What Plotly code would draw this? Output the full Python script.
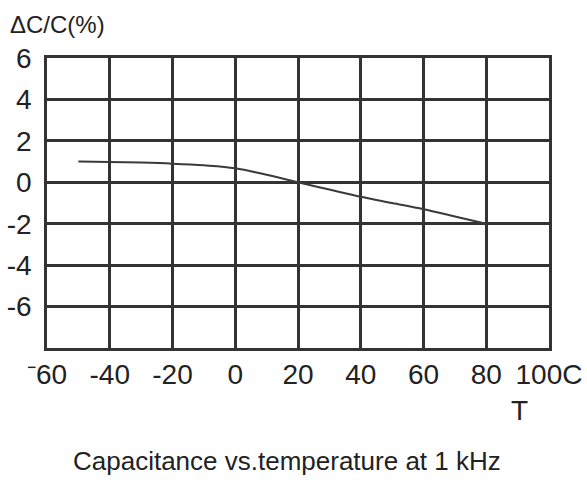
import plotly.graph_objects as go

temps = [-50, -40, -30, -20, -10, 0, 10, 20, 30, 40, 50, 60, 70, 80]
dcc = [1.0, 0.98, 0.95, 0.9, 0.82, 0.68, 0.36, 0.0, -0.35, -0.7, -1.0, -1.3, -1.65, -2.0]

x_ticks = [-60, -40, -20, 0, 20, 40, 60, 80, 100]
x_labels = ["\u207b60", "-40", "-20", "0", "20", "40", "60", "80", "100C"]
y_ticks = [6, 4, 2, 0, -2, -4, -6]
y_labels = ["6", "4", "2", "0", "-2", "-4", "-6"]

ink = "#333333"
fig = go.Figure()
fig.add_trace(go.Scatter(x=temps, y=dcc, mode="lines",
                         line=dict(color="#3a3a3a", width=2, shape="spline"),
                         showlegend=False, hoverinfo="skip"))

tickfont = dict(family="Liberation Sans, Arial", size=28, color="#222")
fig.update_layout(
    width=587, height=482,
    margin=dict(l=47, r=38, t=58, b=134),
    paper_bgcolor="white", plot_bgcolor="white",
    xaxis=dict(range=[-60, 100], tickvals=x_ticks, ticktext=x_labels, automargin=False,
               showgrid=True, gridcolor=ink, gridwidth=2.5,
               showline=True, linecolor=ink, linewidth=2.5, mirror=True,
               zeroline=False, ticks="", tickfont=tickfont, ticklabelstandoff=0),
    yaxis=dict(range=[-8, 6], tickvals=y_ticks, ticktext=y_labels, automargin=False,
               showgrid=True, gridcolor=ink, gridwidth=2.5,
               showline=True, linecolor=ink, linewidth=2.5, mirror=True,
               zeroline=False, ticks="", tickfont=tickfont, ticklabelstandoff=7),
    annotations=[
        dict(text="\u0394C/C(%)", xref="paper", yref="paper", x=-0.077, y=1.0,
             yshift=34, xanchor="left", yanchor="middle", showarrow=False,
             font=dict(family="Liberation Sans, Arial", size=24, color="#222")),
        dict(text="T", xref="x", yref="paper", x=90.5, y=0, yshift=-62,
             xanchor="center", yanchor="middle", showarrow=False,
             font=dict(family="Liberation Sans, Arial", size=28, color="#222")),
        dict(text="Capacitance vs.temperature at 1 kHz", xref="paper", yref="paper",
             x=0.478, y=0, yshift=-113, xanchor="center", yanchor="middle", showarrow=False,
             font=dict(family="Liberation Sans, Arial", size=26, color="#222")),
    ],
)
fig.write_html("out.html", post_script="document.body.style.margin='0';",
               config={"displayModeBar": False})
